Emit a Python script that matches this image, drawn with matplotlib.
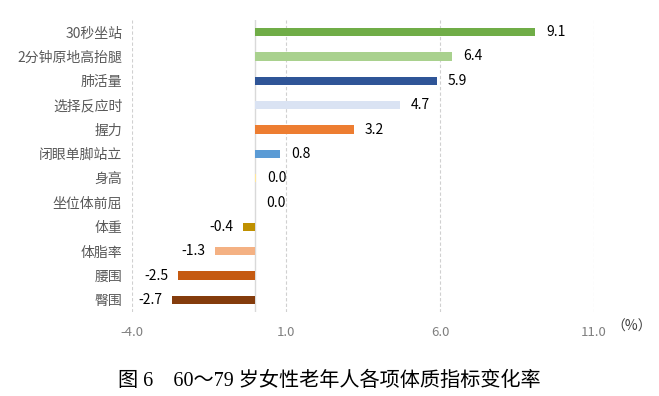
import matplotlib
matplotlib.use("Agg")
import matplotlib.pyplot as plt

categories = ["30秒坐站", "2分钟原地高抬腿", "肺活量", "选择反应时", "握力", "闭眼单脚站立",
              "身高", "坐位体前屈", "体重", "体脂率", "腰围", "臀围"]
values = [9.1, 6.4, 5.9, 4.7, 3.2, 0.8, 0.02, 0.0, -0.4, -1.3, -2.5, -2.7]
labels = ["9.1", "6.4", "5.9", "4.7", "3.2", "0.8", "0.0", "0.0", "-0.4", "-1.3", "-2.5", "-2.7"]
colors = ["#70AD47", "#A9D18E", "#2F5597", "#DAE3F3", "#ED7D31", "#5B9BD5",
          "#FFE699", "#A5A5A5", "#BF9000", "#F4B183", "#C55A11", "#843C0C"]
xticks = [-4.0, 1.0, 6.0, 11.0]
caption = "图 6　60～79 岁女性老年人各项体质指标变化率"

plt.rcParams['font.family'] = ['Noto Sans CJK SC', 'DejaVu Sans']

fig = plt.figure(figsize=(6.59, 3.96), dpi=100)
ax = fig.add_axes([0.2003, 0.2121, 0.7011, 0.7374])

ypos = list(range(len(categories)))
ax.barh(ypos, values, height=0.34, color=colors, zorder=3)

for y, v, lab in zip(ypos, values, labels):
    if v >= 0:
        ax.annotate(lab, (v, y), xytext=(8, 0), textcoords="offset points",
                    ha="left", va="center", fontsize=10, color="#000000", zorder=4)
    else:
        ax.annotate(lab, (v, y), xytext=(-7, 0), textcoords="offset points",
                    ha="right", va="center", fontsize=10, color="#000000", zorder=4)

ax.set_xlim(-4, 11)
ax.set_ylim(11.5, -0.5)
ax.set_xticks(xticks)
ax.set_xticklabels([f"{t:.1f}" for t in xticks], fontsize=9.5, color="#7F7F7F")
ax.set_yticks(ypos)
ax.set_yticklabels(categories, fontsize=10, color="#595959")
ax.tick_params(axis="both", length=0)
ax.tick_params(axis="x", pad=10)
ax.tick_params(axis="y", pad=7)

for t in xticks:
    ax.axvline(t, color="#D0D0D0", linestyle=(0, (3, 2)), linewidth=0.8, zorder=1)
ax.axvline(0, color="#D9D9D9", linewidth=1.0, zorder=2)

for s in ax.spines.values():
    s.set_visible(False)

fig.text(0.958, 0.174, "（%）", fontsize=10, color="#404040", ha="center", va="center")
fig.text(0.5, 0.038, caption, fontsize=14.5, color="#000000", ha="center", va="center",
         family=["Liberation Serif", "Noto Sans CJK SC"])

fig.savefig("out.png", dpi=100)
